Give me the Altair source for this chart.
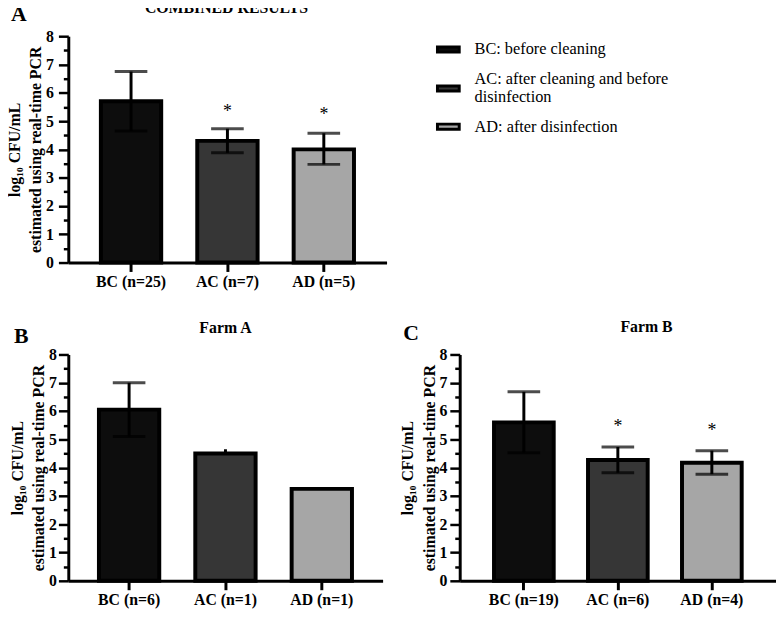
import altair as alt
import pandas as pd

# ---------------- data ----------------
groups = ["BC", "AC", "AD"]
fills = ["#0d0d0d", "#363636", "#a6a6a6"]
legend_lines = [["BC: before cleaning"],
                ["AC: after cleaning and before", "disinfection"],
                ["AD: after disinfection"]]

a_n = [25, 7, 5]
a_mean = [5.70, 4.30, 4.00]
a_lo = [4.65, 3.88, 3.47]
a_hi = [6.75, 4.73, 4.57]
a_star = [None, 5.45, 5.37]
a_cap = [True, True, True]

b_n = [6, 1, 1]
b_mean = [6.05, 4.50, 3.25]
b_lo = [5.10, 4.50, 3.25]
b_hi = [7.00, 4.65, 3.29]
b_star = [None, None, None]
b_cap = [True, False, False]

c_n = [19, 6, 4]
c_mean = [5.60, 4.27, 4.17]
c_lo = [4.53, 3.82, 3.77]
c_hi = [6.68, 4.73, 4.60]
c_star = [None, 5.58, 5.45]
c_cap = [True, True, True]

y_major = [0, 1, 2, 3, 4, 5, 6, 7, 8]
y_minor = [0.5, 1.5, 2.5, 3.5, 4.5, 5.5, 6.5, 7.5]
y_title = ["log\u2081\u2080 CFU/mL", "estimated using real-time PCR"]

FONT = "Liberation Serif"

# legend swatch shapes (two-line entry gets its swatch centred on both lines)
SWATCH = "M-1,-0.23H1V0.23H-1Z"
SWATCH_2LINE = "M-1,0.63H1V1.09H-1Z"


def legend_expr():
    parts = []
    for g, lines in zip(groups, legend_lines):
        if len(lines) == 1:
            txt = "'" + lines[0] + "'"
        else:
            txt = "[" + ", ".join("'" + s + "'" for s in lines) + "]"
        parts.append((g, txt))
    expr = parts[-1][1]
    for g, txt in reversed(parts[:-1]):
        expr = f"datum.label == '{g}' ? {txt} : ({expr})"
    return expr


def make_legend():
    return alt.Legend(title=None, orient="none", legendX=372, legendY=1,
                      labelExpr=legend_expr(), labelFont=FONT,
                      labelFontSize=16.5, labelColor="black", labelLimit=500,
                      labelOffset=14, rowPadding=8, symbolSize=484,
                      symbolStrokeColor="black", symbolStrokeWidth=3,
                      symbolOpacity=1)


def panel(n, mean, lo, hi, star, cap, title, letter, letter_xy, title_xy,
          width, height, legend=False, pad_inner=0.37, pad_outer=0.35,
          label_pad=3):
    df = pd.DataFrame({
        "grp": groups,
        "label": [f"{g} (n={k})" for g, k in zip(groups, n)],
        "mean": mean, "lo": lo, "hi": hi, "star": star, "cap": cap,
    })
    order = list(df["label"])
    x = alt.X("label:N", sort=order, title=None,
              scale=alt.Scale(paddingInner=pad_inner, paddingOuter=pad_outer),
              axis=alt.Axis(labelAngle=0, labelFont=FONT, labelFontSize=16,
                            labelFontWeight="bold", labelColor="black",
                            labelPadding=2, tickSize=9, tickWidth=3,
                            tickColor="black", domainColor="black",
                            domainWidth=3, grid=False))
    yscale = alt.Scale(domain=[0, 8], nice=False, zero=True)
    y_axis = alt.Axis(values=y_major, format="d", labelFont=FONT,
                      labelFontSize=16, labelFontWeight="bold",
                      labelColor="black", labelPadding=label_pad, tickSize=10,
                      tickWidth=2.5, tickColor="black", domainColor="black",
                      domainWidth=3, grid=False, title=y_title,
                      titleFont=FONT, titleFontSize=16, titleFontWeight="bold",
                      titleColor="black", titleLineHeight=21.5, titlePadding=2,
                      orient="left")
    minor_axis = alt.Axis(values=y_minor, labels=False, domain=False,
                          tickSize=5, tickWidth=2.5, tickColor="black",
                          grid=False, title=None, orient="left")

    fill_scale = alt.Scale(domain=groups, range=fills)
    leg = make_legend() if legend else None

    base = alt.Chart(df)
    bars = base.mark_bar(stroke="black", strokeWidth=4).encode(
        x=x,
        y=alt.Y("mean:Q", scale=yscale, axis=y_axis),
        fill=alt.Fill("grp:N", scale=fill_scale, legend=leg),
    )
    err = base.mark_rule(color="black", strokeWidth=3).encode(
        x=alt.X("label:N", sort=order),
        y=alt.Y("lo:Q", scale=yscale, axis=minor_axis),
        y2="hi:Q",
    )
    caps = base.transform_filter("datum.cap").mark_tick(
        color="black", size=33, thickness=3, orient="horizontal").encode(
        x=alt.X("label:N", sort=order),
        y=alt.Y("hi:Q", scale=yscale, axis=None),
    )
    caps_lo = base.transform_filter("datum.cap").mark_tick(
        color="black", size=33, thickness=3, orient="horizontal").encode(
        x=alt.X("label:N", sort=order),
        y=alt.Y("lo:Q", scale=yscale, axis=None),
    )
    stars = base.transform_filter("isValid(datum.star)").mark_text(
        text="*", font=FONT, fontSize=18, color="black",
        baseline="alphabetic", dy=9).encode(
        x=alt.X("label:N", sort=order),
        y=alt.Y("star:Q", scale=yscale, axis=None),
    )
    ann = alt.Chart(pd.DataFrame({"letter": [letter], "title": [title]}))
    let = ann.mark_text(
        font=FONT, fontSize=22, fontWeight="bold", color="black",
        align="left", baseline="alphabetic").encode(
        text="letter:N", x=alt.value(letter_xy[0]), y=alt.value(letter_xy[1]))
    ttl = ann.mark_text(
        font=FONT, fontSize=16, fontWeight="bold", color="black",
        align="center", baseline="alphabetic").encode(
        text="title:N", x=alt.value(title_xy[0]), y=alt.value(title_xy[1]))

    layers = [bars, err, caps, caps_lo, stars, let, ttl]
    if legend:
        swatches = [SWATCH_2LINE if len(l) > 1 else SWATCH for l in legend_lines]
        keys = base.mark_point(filled=True, opacity=0, strokeWidth=3).encode(
            x=alt.X("label:N", sort=order),
            y=alt.Y("mean:Q", scale=yscale, axis=None),
            fill=alt.Fill("grp:N", scale=fill_scale, legend=make_legend()),
            shape=alt.Shape("grp:N",
                            scale=alt.Scale(domain=groups, range=swatches),
                            legend=make_legend()),
            stroke=alt.Stroke("grp:N",
                              scale=alt.Scale(domain=groups,
                                              range=["black"] * len(groups)),
                              legend=make_legend()),
        )
        layers.append(keys)
    ch = alt.layer(*layers).resolve_axis(y="independent").properties(
        width=width, height=height,
    )
    return ch


chA = panel(a_n, a_mean, a_lo, a_hi, a_star, a_cap, "COMBINED RESULTS", "A",
            (-58, -15), (160, -23), 322, 229, legend=True,
            pad_inner=0.374, pad_outer=0.338, label_pad=5)
chB = panel(b_n, b_mean, b_lo, b_hi, b_star, b_cap, "Farm A", "B",
            (-55, -12), (159, -22), 318, 229,
            pad_inner=0.374, pad_outer=0.318, label_pad=2)
chC = panel(c_n, c_mean, c_lo, c_hi, c_star, c_cap, "Farm B", "C",
            (-57, -15), (189, -23), 320, 229,
            pad_inner=0.365, pad_outer=0.365, label_pad=3)

chart = alt.vconcat(
    chA,
    alt.hconcat(chB, chC, spacing=17),
    spacing=30,
).properties(
    padding={"left": -2, "top": -11, "right": 0, "bottom": 0}
).configure(font=FONT).configure_view(stroke=None)

chart.save("out.html", embed_options={"renderer": "svg", "actions": False})
